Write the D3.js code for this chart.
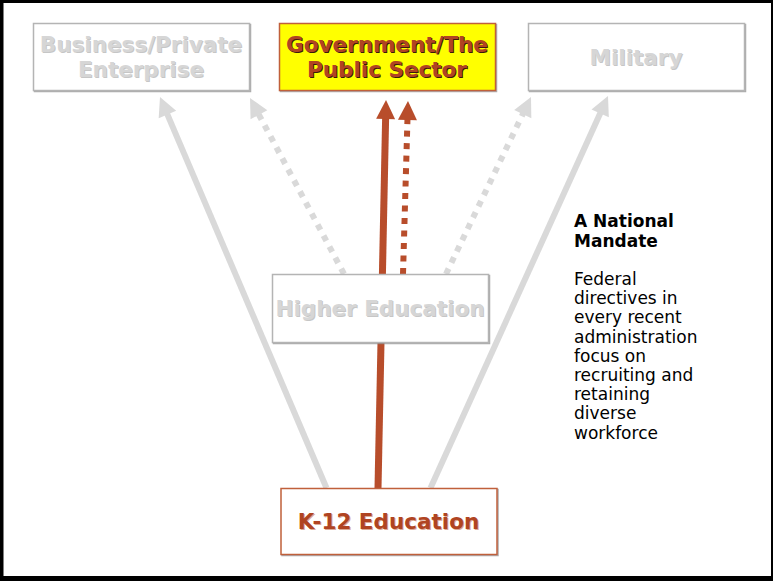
<!DOCTYPE html>
<html><head><meta charset="utf-8">
<script src="https://cdn.jsdelivr.net/npm/d3@7"></script>
<style>body{margin:0;background:#fff}svg{display:block}</style>
</head><body>
<svg id="c" width="773" height="581"></svg>
<script>
// ---- data ----
const nodeNames   = ["business", "government", "military", "higher", "k12"];
const nodeLines   = [["Business/Private", "Enterprise"], ["Government/The", "Public Sector"], ["Military"], ["Higher Education"], ["K-12 Education"]];
const nodeTier    = [0, 0, 0, 1, 2];
const nodeColumn  = [0, 1, 2, 1, 1];
const nodeRole    = ["muted", "focus", "muted", "muted", "source"];

const linkSource  = ["k12", "higher", "k12", "higher", "higher", "k12"];
const linkTarget  = ["business", "business", "government", "government", "military", "military"];
const linkDashed  = [false, true, false, true, true, false];
const linkFocus   = [false, false, true, true, false, false];

const noteTitle = ["A National", "Mandate"];
const noteBody  = ["Federal", "directives in", "every recent", "administration", "focus on", "recruiting and", "retaining", "diverse", "workforce"];

// ---- layout ----
const W = 773, H = 581;
const svg = d3.select("#c");
const x = d3.scaleLinear().domain([0, 2]).range([141, 636]);
const yTop = d3.scaleOrdinal().domain([0, 1, 2]).range([23, 274, 488]);
const tierH = [67, 68, 66];
const boxW = 216;
const nodeDx = {higher: -8.5, k12: 0, government: -1.5};

const nodes = nodeNames.map((n, i) => {
  const cx = x(nodeColumn[i]) + (nodeDx[n] || 0);
  return {name: n, lines: nodeLines[i], role: nodeRole[i],
          x0: cx - boxW / 2, y0: yTop(nodeTier[i]), w: boxW, h: tierH[nodeTier[i]], cx};
});
const byName = Object.fromEntries(nodes.map(d => [d.name, d]));

const anchors = [
  {sx: -62, tx: 19, gap: 7},
  {sx: -36, tx: 109, gap: 8},
  {sx: -10.5, tx: -1, gap: 10},
  {sx: 23, tx: 21, gap: 11},
  {sx: 66, tx: -105, gap: 7},
  {sx: 42, tx: -28, gap: 6}
];

// frame
svg.append("rect").attr("width", W).attr("height", H).attr("fill", "#000");
svg.append("rect").attr("x", 3.5).attr("y", 3).attr("width", 767.5).attr("height", 573).attr("fill", "#fff");

const defs = svg.append("defs");
const f1 = defs.append("filter").attr("id", "sh").attr("x", "-5%").attr("y", "-5%").attr("width", "110%").attr("height", "115%");
f1.append("feDropShadow").attr("dx", 1).attr("dy", 1).attr("stdDeviation", 0.6).attr("flood-color", "#888").attr("flood-opacity", 0.7);

const grey = "#d9d9d9", brown = "#b84d2b";

// arrows
const gA = svg.append("g");
linkSource.forEach((s, i) => {
  const src = byName[s], tgt = byName[linkTarget[i]], a = anchors[i];
  const x1 = src.cx + a.sx, y1 = src.y0;
  const x2 = tgt.cx + a.tx, y2 = tgt.y0 + tgt.h + a.gap;
  const col = linkFocus[i] ? brown : grey;
  const dx = x2 - x1, dy = y2 - y1, L = Math.hypot(dx, dy);
  const ux = dx / L, uy = dy / L;
  const headL = 19, headW = 9.5;
  const bx = x2 - ux * headL, by = y2 - uy * headL;
  const sw = linkFocus[i] && !linkDashed[i] ? 7 : 6;
  gA.append("line")
    .attr("x1", x1).attr("y1", y1)
    .attr("x2", bx + ux).attr("y2", by + uy)
    .attr("stroke", col).attr("stroke-width", sw)
    .attr("stroke-dasharray", linkDashed[i] ? "6,6.5" : null);
  const px = -uy, py = ux;
  gA.append("path")
    .attr("d", `M${x2},${y2}L${bx + px * headW},${by + py * headW}L${bx - px * headW},${by - py * headW}Z`)
    .attr("fill", col);
});

// boxes
const gN = svg.selectAll("g.node").data(nodes).join("g").attr("class", "node");
gN.append("rect")
  .attr("x", d => d.x0 + 0.5).attr("y", d => d.y0 + 0.5)
  .attr("width", d => d.w).attr("height", d => d.h)
  .attr("fill", d => d.role === "focus" ? "#ffff00" : "#fff")
  .attr("stroke", d => d.role === "muted" ? "#b4b4b4" : "#c0603a")
  .attr("stroke-width", 1.5)
  .attr("filter", "url(#sh)");

gN.each(function(d) {
  const g = d3.select(this);
  const n = d.lines.length, lh = 25;
  const base = d.y0 + d.h / 2 + 8 - (n - 1) * lh / 2;
  const fill = d.role === "muted" ? "#d6d6d6" : "#b04422";
  const shadow = d.role === "muted" ? "#c6c6c6" : (d.role === "focus" ? "#3a1a0a" : "#dcaa96");
  d.lines.forEach((t, j) => {
    [[1, 1, shadow], [0, 0, fill]].forEach(([ox, oy, c]) => {
      g.append("text")
        .attr("x", d.cx + ox).attr("y", base + j * lh + oy)
        .attr("text-anchor", "middle")
        .attr("font-family", "DejaVu Sans, Verdana, sans-serif")
        .attr("font-weight", "bold").attr("font-size", 21.5)
        .attr("fill", c).text(t);
    });
  });
});

// note text
const gT = svg.append("g").attr("font-family", "DejaVu Sans, Verdana, sans-serif").attr("fill", "#000");
noteTitle.forEach((t, i) => gT.append("text").attr("x", 574).attr("y", 227 + i * 19.5)
  .attr("font-weight", "bold").attr("font-size", 17).text(t));
noteBody.forEach((t, i) => gT.append("text").attr("x", 574).attr("y", 285 + i * 19.2)
  .attr("font-size", 17).text(t));
</script>
</body></html>
